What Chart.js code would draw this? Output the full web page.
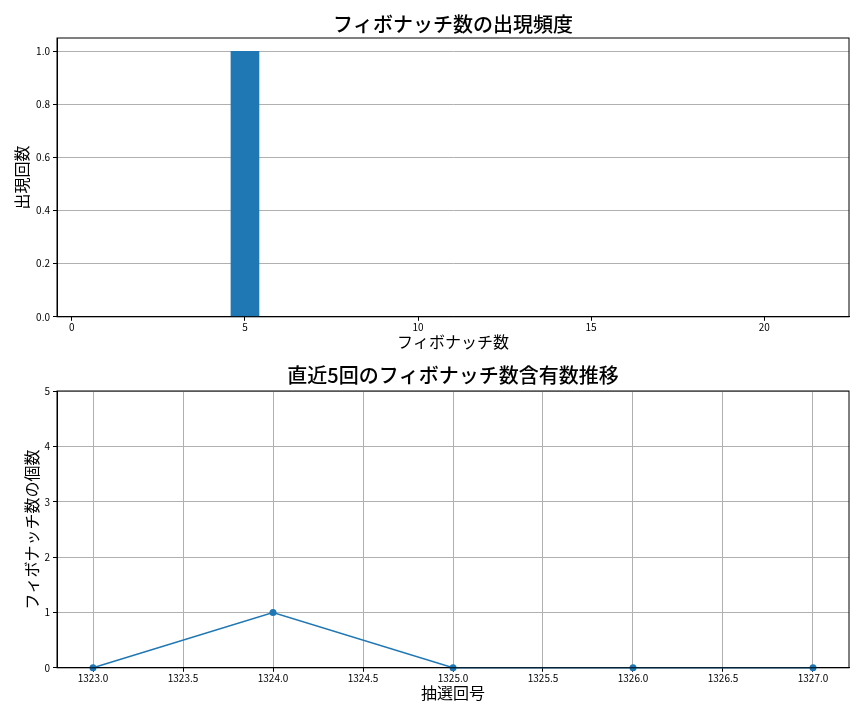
<!DOCTYPE html>
<html>
<head>
<meta charset="utf-8">
<script src="https://cdn.jsdelivr.net/npm/chart.js@4"></script>
<style>
  body { margin: 0; background: #fff; }
  .box { position: absolute; left: 0; width: 864px; height: 360px; }
</style>
</head>
<body>
<div class="box" style="top:0"><canvas id="chart_top" width="864" height="360"></canvas></div>
<div class="box" style="top:360px"><canvas id="chart_bottom" width="864" height="360"></canvas></div>
<script>
// top chart: frequency of fibonacci numbers
let fibNumbers = [5];
let fibCounts = [1];
let topXTicks = [0, 5, 10, 15, 20];
let topYTicks = [0, 0.2, 0.4, 0.6, 0.8, 1.0];

// bottom chart: last 5 draws
let drawNumbers = [1323, 1324, 1325, 1326, 1327];
let fibPerDraw = [0, 1, 0, 0, 0];
let bottomXTicks = [1323, 1323.5, 1324, 1324.5, 1325, 1325.5, 1326, 1326.5, 1327];
let bottomYTicks = [0, 1, 2, 3, 4, 5];

const FONT = "'Noto Sans CJK JP', 'Noto Sans', sans-serif";
const BLUE = "#1f77b4";
Chart.defaults.font.family = FONT;
Chart.defaults.color = "#000";

// draw the full frame around the plot area like matplotlib spines
const framePlugin = {
    id: "frame",
    afterDraw(chart) {
        let a = chart.chartArea;
        let ctx = chart.ctx;
        ctx.save();
        ctx.strokeStyle = "#000";
        ctx.lineWidth = 1;
        ctx.strokeRect(a.left, a.top, a.right - a.left, a.bottom - a.top);
        ctx.restore();
    }
};

function setTicks(list) {
    return function (scale) { scale.ticks = list.map(v => ({value: v})); };
}

let ctxTop = document.getElementById("chart_top").getContext("2d");
let chartTop = new Chart(ctxTop, {
    type: "bar",
    data: {
        datasets: [{
            data: fibNumbers.map((v, i) => ({x: v, y: fibCounts[i]})),
            backgroundColor: BLUE,
            barThickness: 28
        }]
    },
    options: {
        responsive: false,
        animation: false,
        layout: {padding: {left: 12, right: 15, top: 0, bottom: 8}},
        plugins: {
            legend: {display: false},
            tooltip: {enabled: false},
            title: {
                display: true,
                fullSize: false,
                text: "フィボナッチ数の出現頻度",
                font: {size: 20, weight: "500", family: FONT},
                padding: {top: 12, bottom: 2}
            }
        },
        scales: {
            x: {
                type: "linear",
                offset: false,
                min: -0.43,
                max: 22.45,
                afterBuildTicks: setTicks(topXTicks),
                ticks: {font: {size: 10, lineHeight: 1}, padding: 1, maxRotation: 0, autoSkip: false},
                grid: {offset: false, drawOnChartArea: false, tickLength: 4, tickColor: "#000"},
                border: {color: "#000"},
                title: {display: true, text: "フィボナッチ数", font: {size: 16}, padding: {top: 0, bottom: 0}}
            },
            y: {
                min: 0,
                max: 1.05,
                afterBuildTicks: setTicks(topYTicks),
                afterFit(scale) { scale.width = 45; },
                ticks: {font: {size: 10}, padding: 3, autoSkip: false, callback: v => v.toFixed(1)},
                grid: {color: "#b0b0b0", tickLength: 4, tickColor: "#000"},
                border: {color: "#000"},
                title: {display: true, text: "出現回数", font: {size: 16}, padding: 0}
            }
        }
    },
    plugins: [framePlugin]
});

let ctxBottom = document.getElementById("chart_bottom").getContext("2d");
let chartBottom = new Chart(ctxBottom, {
    type: "line",
    data: {
        datasets: [{
            data: drawNumbers.map((v, i) => ({x: v, y: fibPerDraw[i]})),
            borderColor: BLUE,
            backgroundColor: BLUE,
            borderWidth: 1.5,
            pointRadius: 3.5,
            pointBorderWidth: 0,
            tension: 0,
            clip: false
        }]
    },
    options: {
        responsive: false,
        animation: false,
        layout: {padding: {left: 22, right: 15, top: 0, bottom: 17}},
        plugins: {
            legend: {display: false},
            tooltip: {enabled: false},
            title: {
                display: true,
                fullSize: false,
                text: "直近5回のフィボナッチ数含有数推移",
                font: {size: 20, weight: "500", family: FONT},
                padding: {top: 3, bottom: 4}
            }
        },
        scales: {
            x: {
                type: "linear",
                min: 1322.8,
                max: 1327.2,
                afterBuildTicks: setTicks(bottomXTicks),
                ticks: {font: {size: 10, lineHeight: 1}, padding: 1, maxRotation: 0, autoSkip: false, callback: v => v.toFixed(1)},
                grid: {color: "#b0b0b0", tickLength: 4, tickColor: "#000"},
                border: {color: "#000"},
                title: {display: true, text: "抽選回号", font: {size: 16}, padding: {top: 0, bottom: 0}}
            },
            y: {
                min: 0,
                max: 5,
                afterBuildTicks: setTicks(bottomYTicks),
                afterFit(scale) { scale.width = 35; },
                ticks: {font: {size: 10}, padding: 3, autoSkip: false},
                grid: {color: "#b0b0b0", tickLength: 4, tickColor: "#000"},
                border: {color: "#000"},
                title: {display: true, text: "フィボナッチ数の個数", font: {size: 16}, padding: 0}
            }
        }
    },
    plugins: [framePlugin]
});
</script>
</body>
</html>
